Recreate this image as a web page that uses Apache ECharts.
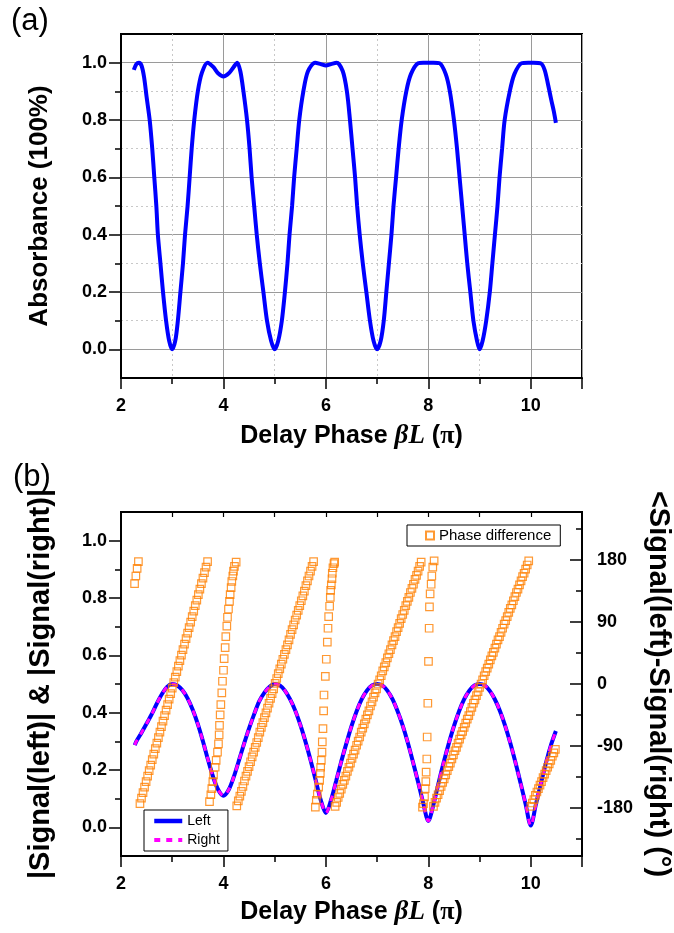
<!DOCTYPE html>
<html>
<head>
<meta charset="utf-8">
<script src="https://cdn.jsdelivr.net/npm/echarts@6/dist/echarts.min.js"></script>
<style>
html,body{margin:0;padding:0;background:#fff;}
#chart{width:674px;height:933px;}
</style>
</head>
<body>
<div id="chart"></div>
<script>
// ---------- DATA ----------
// Panel (a): absorbance vs delay phase (x in units of pi)
const absorbance = [
[2.25,0.975],[2.30,0.995],[2.35,1.0],[2.40,0.99],[2.45,0.95],[2.50,0.88],[2.56,0.80],[2.61,0.70],[2.65,0.60],[2.69,0.50],[2.72,0.40],[2.77,0.30],[2.82,0.20],[2.88,0.10],[2.94,0.03],[3.00,0.0],[3.06,0.03],[3.11,0.10],[3.16,0.20],[3.21,0.30],[3.25,0.40],[3.30,0.50],[3.34,0.60],[3.38,0.70],[3.43,0.80],[3.50,0.90],[3.58,0.965],[3.69,1.0],[3.80,0.985],[3.90,0.962],[4.00,0.952],[4.10,0.962],[4.20,0.985],[4.27,1.0],[4.33,0.97],[4.39,0.90],[4.46,0.80],[4.51,0.70],[4.55,0.60],[4.60,0.50],[4.65,0.40],[4.71,0.30],[4.78,0.20],[4.85,0.10],[4.93,0.03],[5.00,0.0],[5.07,0.03],[5.14,0.10],[5.20,0.20],[5.25,0.30],[5.29,0.40],[5.34,0.50],[5.38,0.60],[5.43,0.70],[5.48,0.80],[5.56,0.90],[5.65,0.97],[5.79,1.0],[5.90,0.995],[6.00,0.99],[6.10,0.995],[6.21,1.0],[6.33,0.97],[6.41,0.90],[6.47,0.80],[6.52,0.70],[6.57,0.60],[6.61,0.50],[6.66,0.40],[6.72,0.30],[6.79,0.20],[6.86,0.10],[6.93,0.03],[7.00,0.0],[7.07,0.03],[7.13,0.10],[7.18,0.20],[7.23,0.30],[7.28,0.40],[7.32,0.50],[7.37,0.60],[7.42,0.70],[7.48,0.80],[7.57,0.90],[7.66,0.96],[7.80,0.998],[7.90,1.0],[8.00,1.0],[8.10,1.0],[8.22,0.998],[8.34,0.96],[8.42,0.90],[8.50,0.80],[8.56,0.70],[8.61,0.60],[8.66,0.50],[8.71,0.40],[8.76,0.30],[8.82,0.20],[8.88,0.10],[8.95,0.03],[9.00,0.0],[9.06,0.03],[9.13,0.10],[9.20,0.20],[9.25,0.30],[9.30,0.40],[9.35,0.50],[9.39,0.60],[9.44,0.70],[9.49,0.80],[9.59,0.90],[9.68,0.96],[9.82,0.998],[9.95,1.0],[10.05,1.0],[10.20,0.997],[10.27,0.975],[10.33,0.93],[10.40,0.87],[10.45,0.83],[10.49,0.79]
];

// Panel (b): |Signal| magnitudes
const magX = [2.27,2.3,2.4,2.5,2.6,2.7,2.8,2.9,3.0,3.1,3.2,3.3,3.4,3.5,3.6,3.7,3.8,3.9,4.0,4.1,4.2,4.3,4.4,4.5,4.6,4.7,4.8,4.9,5.0,5.1,5.2,5.3,5.4,5.5,5.6,5.7,5.8,5.9,6.0,6.1,6.2,6.3,6.4,6.5,6.6,6.7,6.8,6.9,7.0,7.1,7.2,7.3,7.4,7.5,7.6,7.7,7.8,7.9,8.0,8.1,8.2,8.3,8.4,8.5,8.6,8.7,8.8,8.9,9.0,9.1,9.2,9.3,9.4,9.5,9.6,9.7,9.8,9.9,10.0,10.1,10.2,10.3,10.4,10.49];
const leftMag = [0.287,0.30,0.33,0.362,0.395,0.432,0.465,0.49,0.50,0.495,0.478,0.45,0.41,0.36,0.30,0.235,0.175,0.13,0.11,0.13,0.175,0.232,0.29,0.345,0.395,0.44,0.47,0.49,0.50,0.495,0.477,0.447,0.408,0.358,0.30,0.235,0.165,0.095,0.05,0.095,0.162,0.23,0.293,0.353,0.405,0.447,0.477,0.495,0.50,0.495,0.477,0.447,0.405,0.355,0.295,0.228,0.158,0.085,0.022,0.08,0.155,0.227,0.293,0.353,0.405,0.447,0.477,0.495,0.50,0.495,0.476,0.446,0.405,0.354,0.294,0.227,0.155,0.08,0.006,0.08,0.155,0.227,0.29,0.336];
const rightMag = [0.287,0.30,0.33,0.362,0.395,0.432,0.465,0.49,0.50,0.495,0.478,0.45,0.41,0.36,0.30,0.235,0.175,0.13,0.11,0.13,0.175,0.232,0.29,0.345,0.395,0.44,0.47,0.49,0.50,0.495,0.477,0.447,0.408,0.358,0.30,0.235,0.165,0.095,0.05,0.095,0.162,0.23,0.293,0.353,0.405,0.447,0.477,0.495,0.50,0.495,0.477,0.447,0.405,0.355,0.295,0.228,0.158,0.085,0.022,0.08,0.155,0.227,0.293,0.353,0.405,0.447,0.477,0.495,0.50,0.495,0.476,0.446,0.405,0.354,0.294,0.227,0.155,0.08,0.006,0.08,0.155,0.227,0.29,0.336];

// Panel (b): phase difference (degrees), read segment by segment
const phaseSeg0 = [[2.265,146],[2.29,157],[2.315,168],[2.34,178]];
const phaseSeg1 = [[2.37,-174],[2.40,-166],[2.43,-158],[2.46,-150],[2.49,-142],[2.52,-134],[2.55,-126],[2.58,-118],[2.61,-110],[2.64,-102],[2.67,-94],[2.70,-86],[2.73,-78],[2.76,-70],[2.79,-62],[2.82,-54],[2.85,-46],[2.88,-38],[2.91,-30],[2.94,-22],[2.97,-14],[3.00,-6],[3.03,2],[3.06,10],[3.09,18],[3.12,26],[3.15,34],[3.18,42],[3.21,50],[3.24,58],[3.27,66],[3.30,74],[3.33,82],[3.36,90],[3.39,98],[3.42,106],[3.45,114],[3.48,122],[3.51,130],[3.54,138],[3.57,146],[3.60,154],[3.63,162],[3.66,170],[3.69,178]];
const phaseSeg2 = [[3.728,-171],[3.754,-161],[3.773,-152],[3.793,-142],[3.806,-132],[3.838,-121],[3.858,-111],[3.884,-99],[3.903,-87],[3.916,-74],[3.923,-60],[3.936,-45],[3.949,-30],[3.968,-13],[3.981,4],[4.001,20],[4.014,37],[4.033,53],[4.046,69],[4.066,84],[4.079,97],[4.098,109],[4.118,120],[4.131,130],[4.150,140],[4.163,149],[4.183,157],[4.196,164],[4.215,171],[4.248,177]];
const phaseSeg3 = [[4.26,-177],[4.29,-170],[4.32,-163],[4.35,-156],[4.38,-149],[4.41,-141],[4.44,-134],[4.47,-127],[4.50,-120],[4.53,-113],[4.56,-106],[4.59,-99],[4.62,-92],[4.65,-85],[4.68,-78],[4.71,-70],[4.74,-63],[4.77,-56],[4.80,-49],[4.83,-42],[4.86,-35],[4.89,-28],[4.92,-21],[4.95,-14],[4.98,-7],[5.01,1],[5.04,8],[5.07,15],[5.10,22],[5.13,29],[5.16,36],[5.19,43],[5.22,50],[5.25,57],[5.28,64],[5.31,72],[5.34,79],[5.37,86],[5.40,93],[5.43,100],[5.46,107],[5.49,114],[5.52,121],[5.55,128],[5.58,135],[5.61,143],[5.64,150],[5.67,157],[5.70,164],[5.73,171],[5.76,178]];
const phaseSeg4 = [[5.794,-179],[5.813,-169],[5.833,-160],[5.859,-150],[5.878,-140],[5.891,-130],[5.898,-121],[5.911,-111],[5.924,-99],[5.930,-84],[5.943,-65],[5.956,-39],[5.963,-16],[5.989,11],[6.008,36],[6.028,61],[6.041,81],[6.054,98],[6.073,113],[6.086,126],[6.093,136],[6.106,144],[6.119,153],[6.125,161],[6.138,169],[6.158,175],[6.171,177]];
const phaseSeg5 = [[6.18,-178],[6.21,-172],[6.24,-165],[6.27,-159],[6.30,-153],[6.33,-146],[6.36,-140],[6.39,-134],[6.42,-127],[6.45,-121],[6.48,-115],[6.51,-108],[6.54,-102],[6.57,-96],[6.60,-89],[6.63,-83],[6.66,-77],[6.69,-70],[6.72,-64],[6.75,-58],[6.78,-51],[6.81,-45],[6.84,-39],[6.87,-32],[6.90,-26],[6.93,-19],[6.96,-13],[6.99,-7],[7.02,0],[7.05,6],[7.08,12],[7.11,19],[7.14,25],[7.17,31],[7.20,38],[7.23,44],[7.26,50],[7.29,57],[7.32,63],[7.35,69],[7.38,76],[7.41,82],[7.44,88],[7.47,95],[7.50,101],[7.53,107],[7.56,114],[7.59,120],[7.62,126],[7.65,133],[7.68,139],[7.71,145],[7.74,152],[7.77,158],[7.80,164],[7.83,171],[7.86,177]];
const phaseSeg6 = [[7.886,-179],[7.905,-174],[7.925,-164],[7.938,-152],[7.951,-142],[7.957,-128],[7.970,-109],[7.977,-77],[7.990,-28],[8.003,33],[8.016,81],[8.022,112],[8.035,131],[8.055,145],[8.068,157],[8.087,170],[8.113,179]];
const phaseSeg7 = [[8.10,-178],[8.13,-172],[8.16,-166],[8.19,-161],[8.22,-155],[8.25,-149],[8.28,-143],[8.31,-138],[8.34,-132],[8.37,-126],[8.40,-120],[8.43,-115],[8.46,-109],[8.49,-103],[8.52,-97],[8.55,-92],[8.58,-86],[8.61,-80],[8.64,-74],[8.67,-69],[8.70,-63],[8.73,-57],[8.76,-51],[8.79,-46],[8.82,-40],[8.85,-34],[8.88,-28],[8.91,-23],[8.94,-17],[8.97,-11],[9.00,-5],[9.03,0],[9.06,6],[9.09,12],[9.12,18],[9.15,23],[9.18,29],[9.21,35],[9.24,41],[9.27,46],[9.30,52],[9.33,58],[9.36,64],[9.39,69],[9.42,75],[9.45,81],[9.48,87],[9.51,92],[9.54,98],[9.57,104],[9.60,110],[9.63,115],[9.66,121],[9.69,127],[9.72,133],[9.75,138],[9.78,144],[9.81,150],[9.84,156],[9.87,161],[9.90,167],[9.93,173],[9.96,179]];
const phaseSeg8 = [[10.00,-178],[10.03,-173],[10.06,-168],[10.09,-162],[10.12,-157],[10.15,-152],[10.18,-147],[10.21,-142],[10.24,-136],[10.27,-131],[10.30,-126],[10.33,-121],[10.36,-116],[10.39,-111],[10.42,-105],[10.45,-100],[10.48,-95]];

// Tick values
const xMajorTicks = [2,4,6,8,10,11];
const xLabels = [2,4,6,8,10];
const xMinorTicks = [3,5,7,9];
const yMajorTicks = [0,0.2,0.4,0.6,0.8,1.0];
const yMinorTicks = [0.1,0.3,0.5,0.7,0.9];
const degMajorTicks = [-180,-90,0,90,180];
const degMinorTicks = [-225,-135,-45,45,135,225];
const topTicks = [3,4,5,6,7,8,9,10];

// ---------- CHART ----------
const F = "'Liberation Sans', Arial, Helvetica, sans-serif";
const tickFont = {color:'#000', fontFamily:F, fontWeight:'bold', fontSize:18};
const nameFontA = {color:'#000', fontFamily:F, fontWeight:'bold', fontSize:26};
const nameFontB = {color:'#000', fontFamily:F, fontWeight:'bold', fontSize:29};
const xName = '{n|Delay Phase }{i|βL}{n| (}{p|π}{n|)}';
const xNameStyle = {
  color:'#000',
  rich:{
    n:{fontFamily:F, fontWeight:'bold', fontSize:25, color:'#000'},
    i:{fontFamily:"'Liberation Serif', 'Times New Roman', serif", fontStyle:'italic', fontWeight:'bold', fontSize:27, color:'#000'},
    p:{fontFamily:"'Liberation Serif', 'Times New Roman', serif", fontWeight:'bold', fontSize:26, color:'#000'}
  }
};
const majorGrid = {show:true, lineStyle:{color:'#9a9a9a', width:1, type:'solid'}};
const minorGrid = {show:true, lineStyle:{color:'#c8c8c8', width:1, type:[2,3]}};
const axisLineBlack = {show:true, onZero:false, lineStyle:{color:'#000', width:2}};
const noLine = {show:false, onZero:false};

function xMaj(gi, split, gap){
  return {type:'value', gridIndex:gi, min:2, max:11, position:'bottom',
    axisLine:axisLineBlack,
    axisTick:{show:true, inside:false, length:11, customValues:xMajorTicks, lineStyle:{color:'#000', width:1.5}},
    axisLabel:{show:true, customValues:xLabels, margin:19, ...tickFont},
    splitLine: split ? majorGrid : {show:false},
    name: xName, nameLocation:'middle', nameGap:gap, nameTextStyle:xNameStyle
  };
}
function xMin(gi, split){
  return {type:'value', gridIndex:gi, min:2, max:11, position:'bottom',
    axisLine:noLine,
    axisTick:{show:true, inside:false, length:6, customValues:xMinorTicks, lineStyle:{color:'#000', width:1.5}},
    axisLabel:{show:false},
    splitLine: split ? minorGrid : {show:false}
  };
}
function yMaj(gi, split, name, gap, nf){
  return {type:'value', gridIndex:gi, min:-0.1, max:1.1, position:'left',
    axisLine:axisLineBlack,
    axisTick:{show:true, inside:false, length:12, customValues:yMajorTicks, lineStyle:{color:'#000', width:1.5}},
    axisLabel:{show:true, customValues:yMajorTicks, margin:14, formatter:v=>Number(v).toFixed(1), ...tickFont},
    splitLine: split ? majorGrid : {show:false},
    name:name, nameLocation:'middle', nameGap:gap, nameTextStyle:nf
  };
}
function yMin(gi, split){
  return {type:'value', gridIndex:gi, min:-0.1, max:1.1, position:'left',
    axisLine:noLine,
    axisTick:{show:true, inside:false, length:6, customValues:yMinorTicks, lineStyle:{color:'#000', width:1.5}},
    axisLabel:{show:false},
    splitLine: split ? minorGrid : {show:false}
  };
}

const magLeftData = magX.map((x,i)=>[x, leftMag[i]]);
const magRightData = magX.map((x,i)=>[x, rightMag[i]]);
const phaseData = [].concat(phaseSeg0, phaseSeg1, phaseSeg2, phaseSeg3, phaseSeg4, phaseSeg5, phaseSeg6, phaseSeg7, phaseSeg8);

const option = {
  animation:false,
  backgroundColor:'#fff',
  grid:[
    {left:121, right:92, top:34, height:344, show:true, borderColor:'#000', borderWidth:2, backgroundColor:'transparent', containLabel:false, outerBoundsMode:'none'},
    {left:121, right:92, top:512, height:344, show:true, borderColor:'#000', borderWidth:2, backgroundColor:'transparent', containLabel:false, outerBoundsMode:'none'}
  ],
  xAxis:[
    xMaj(0, true, 45),
    xMin(0, true),
    xMaj(1, false, 43),
    xMin(1, false),
    {type:'value', gridIndex:1, min:2, max:11, position:'top',
      axisLine:axisLineBlack,
      axisTick:{show:true, inside:true, length:5, customValues:topTicks, lineStyle:{color:'#000', width:1.2}},
      axisLabel:{show:false}, splitLine:{show:false}}
  ],
  yAxis:[
    yMaj(0, true, 'Absorbance (100%)', 68, nameFontA),
    yMin(0, true),
    yMaj(1, false, '|Signal(left)| & |Signal(right)|', 66, nameFontB),
    yMin(1, false),
    {type:'value', gridIndex:1, min:-250, max:250, position:'right',
      axisLine:axisLineBlack,
      axisTick:{show:true, inside:true, length:12, customValues:degMajorTicks, lineStyle:{color:'#000', width:1.5}},
      axisLabel:{show:true, customValues:degMajorTicks, margin:15, ...tickFont},
      splitLine:{show:false},
      name:'<Signal(left)-Signal(right) (°)', nameLocation:'middle', nameGap:57, nameRotate:-90, nameTextStyle:nameFontB
    },
    {type:'value', gridIndex:1, min:-250, max:250, position:'right',
      axisLine:noLine,
      axisTick:{show:true, inside:true, length:6, customValues:degMinorTicks, lineStyle:{color:'#000', width:1.5}},
      axisLabel:{show:false}, splitLine:{show:false}}
  ],
  legend:[
    {data:['Phase difference'], left:407, top:525, orient:'horizontal', selectedMode:false,
      itemWidth:8, itemHeight:8, padding:[3,9,3,18], borderColor:'#000', borderWidth:1, backgroundColor:'#fff',
      textStyle:{fontFamily:F, fontSize:15, color:'#000'}},
    {data:[{name:'Left', lineStyle:{width:4.5}}, {name:'Right', lineStyle:{width:4}}], left:144, top:810, orient:'vertical', selectedMode:false,
      itemWidth:28, itemHeight:12, itemGap:5, padding:[4,8,4,8], borderColor:'#000', borderWidth:1, backgroundColor:'#fff',
      itemStyle:{opacity:0},
      textStyle:{fontFamily:F, fontSize:14, color:'#000'}}
  ],
  graphic:[
    {type:'text', left:11, top:6, style:{text:'(a)', font:"31px 'Liberation Sans', Arial, sans-serif", fill:'#000'}},
    {type:'text', left:13, top:462, style:{text:'(b)', font:"31px 'Liberation Sans', Arial, sans-serif", fill:'#000'}}
  ],
  series:[
    {name:'Absorbance', type:'line', xAxisIndex:0, yAxisIndex:0, data:absorbance, smooth:0.3,
      symbol:'none', lineStyle:{color:'#0000FF', width:4}, itemStyle:{color:'#0000FF'}, z:3},
    {name:'Left', type:'line', xAxisIndex:2, yAxisIndex:2, data:magLeftData, smooth:0.3,
      symbol:'none', lineStyle:{color:'#0000FF', width:4}, itemStyle:{color:'#0000FF'}, z:3},
    {name:'Right', type:'line', xAxisIndex:2, yAxisIndex:2, data:magRightData, smooth:0.3,
      symbol:'none', lineStyle:{color:'#FF00FF', width:3, type:[6,6]}, itemStyle:{color:'#FF00FF'}, z:4},
    {name:'Phase difference', type:'scatter', xAxisIndex:2, yAxisIndex:4, data:phaseData,
      symbol:'rect', symbolSize:7.5,
      itemStyle:{color:'rgba(255,255,255,0)', borderColor:'#FF8000', borderWidth:1.2}, z:5}
  ]
};

const chart = echarts.init(document.getElementById('chart'), null, {renderer:'canvas'});
chart.setOption(option);
</script>
</body>
</html>
